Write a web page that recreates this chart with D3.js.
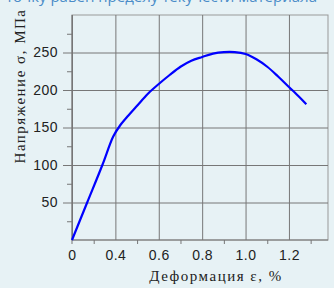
<!DOCTYPE html>
<html>
<head>
<meta charset="utf-8">
<script src="https://cdn.jsdelivr.net/npm/d3@7"></script>
<style>
  html, body { margin: 0; padding: 0; background: #e7f2f5; overflow: hidden; }
  svg { display: block; }
</style>
</head>
<body>
<svg width="334" height="288"></svg>
<script>
// strain (%) and stress (MPa)
const strain = [0, 0.14, 0.28, 0.38, 0.42, 0.46, 0.5, 0.55, 0.6, 0.65, 0.7, 0.75, 0.8, 0.85, 0.9, 0.95, 1.0, 1.05, 1.1, 1.15, 1.2, 1.25, 1.28];
const stress = [0, 50, 100, 138, 152, 166, 179, 195, 208, 220, 231, 239, 244, 248.5, 250.5, 250.5, 248, 241, 231, 218, 204, 190, 181];
const xMajor = [0, 0.4, 0.6, 0.8, 1.0, 1.2];
const xLabels = ["0", "0.4", "0.6", "0.8", "1.0", "1.2"];
const xMinor = [0.2, 0.5, 0.7, 0.9, 1.1, 1.3];
const yMajor = [50, 100, 150, 200, 250];
const yMinor = [25, 75, 125, 175, 225, 275];

const data = strain.map((d, i) => ({ x: d, y: stress[i] }));

const svg = d3.select("svg");
const margin = { left: 72, top: 15, right: 6, bottom: 48 };
const width = +svg.attr("width");
const height = +svg.attr("height");
const innerWidth = width - margin.left - margin.right;
const innerHeight = height - margin.top - margin.bottom;

// the axis is labelled 0, 0.4, 0.6 ... with equal spacing, so the scale is piecewise
const step = innerWidth / (1 + (1.38 - 0.4) / 0.2);
const xScale = d3.scaleLinear()
  .domain([0, 0.4, 1.38])
  .range([0, step, step + (1.38 - 0.4) / 0.2 * step]);
const yScale = d3.scaleLinear().domain([0, 300]).range([innerHeight, 0]);

// caption cut off at the top
svg.append("text")
  .attr("x", 317)
  .attr("y", 2)
  .attr("text-anchor", "end")
  .style("font-family", "'Open Sans', sans-serif")
  .style("font-size", "15px")
  .attr("fill", "#4a8cc8")
  .text("точку равен пределу текучести материала");

const g = svg.append("g")
  .attr("transform", `translate(${margin.left},${margin.top})`);

const gridColor = "#777";

// frame
g.append("rect")
  .attr("x", 0)
  .attr("y", 0)
  .attr("width", innerWidth)
  .attr("height", innerHeight)
  .attr("fill", "none")
  .attr("stroke", "#999");

// y axis with gridlines
const yAxis = d3.axisLeft(yScale)
  .tickValues(yMajor)
  .tickSize(-innerWidth)
  .tickPadding(14);
const yAxisG = g.append("g").call(yAxis);
yAxisG.select(".domain").remove();
yAxisG.selectAll(".tick line")
  .attr("x1", -9)
  .attr("stroke", gridColor);
yAxisG.selectAll(".tick text")
  .attr("x", -14)
  .style("font-family", "'Liberation Sans', Arial, sans-serif")
  .style("font-size", "14px")
  .style("letter-spacing", "0.5px")
  .attr("fill", "#222");

const yMinorG = g.append("g").call(d3.axisLeft(yScale).tickValues(yMinor).tickSize(5));
yMinorG.select(".domain").remove();
yMinorG.selectAll(".tick text").remove();
yMinorG.selectAll(".tick line").attr("stroke", gridColor);

// x axis with gridlines
const xAxis = d3.axisBottom(xScale)
  .tickValues(xMajor)
  .tickFormat((d, i) => xLabels[i])
  .tickSize(-innerHeight)
  .tickPadding(10);
const xAxisG = g.append("g")
  .attr("transform", `translate(0,${innerHeight})`)
  .call(xAxis);
xAxisG.select(".domain").remove();
xAxisG.selectAll(".tick line").attr("stroke", gridColor);
xAxisG.selectAll(".tick text")
  .style("font-family", "'Liberation Sans', Arial, sans-serif")
  .style("font-size", "14px")
  .style("letter-spacing", "0.5px")
  .attr("fill", "#222");

const xMinorG = g.append("g")
  .attr("transform", `translate(0,${innerHeight})`)
  .call(d3.axisBottom(xScale).tickValues(xMinor).tickSize(4));
xMinorG.select(".domain").remove();
xMinorG.selectAll(".tick text").remove();
xMinorG.selectAll(".tick line").attr("stroke", gridColor);

// axis lines
g.append("line")
  .attr("x1", 0).attr("x2", innerWidth)
  .attr("y1", innerHeight).attr("y2", innerHeight)
  .attr("stroke", gridColor);
g.append("line")
  .attr("x1", 0).attr("x2", 0)
  .attr("y1", 0).attr("y2", innerHeight + 4)
  .attr("stroke", gridColor);

// curve
const line = d3.line()
  .x(d => xScale(d.x))
  .y(d => yScale(d.y))
  .curve(d3.curveCatmullRom.alpha(0.5));
g.append("path")
  .datum(data)
  .attr("d", line)
  .attr("fill", "none")
  .attr("stroke", "#0000ff")
  .attr("stroke-width", 2.2)
  .attr("stroke-linejoin", "round");

// axis titles
svg.append("text")
  .attr("x", 216)
  .attr("y", 281)
  .attr("text-anchor", "middle")
  .style("font-family", "'Liberation Serif', 'Times New Roman', serif")
  .style("font-size", "15px")
  .style("letter-spacing", "1.5px")
  .attr("fill", "#222")
  .text("Деформация ε, %");

svg.append("text")
  .attr("transform", "translate(25,86) rotate(-90)")
  .attr("text-anchor", "middle")
  .style("font-family", "'Liberation Serif', 'Times New Roman', serif")
  .style("font-size", "15px")
  .style("letter-spacing", "1.5px")
  .attr("fill", "#222")
  .text("Напряжение σ, МПа");
</script>
</body>
</html>
